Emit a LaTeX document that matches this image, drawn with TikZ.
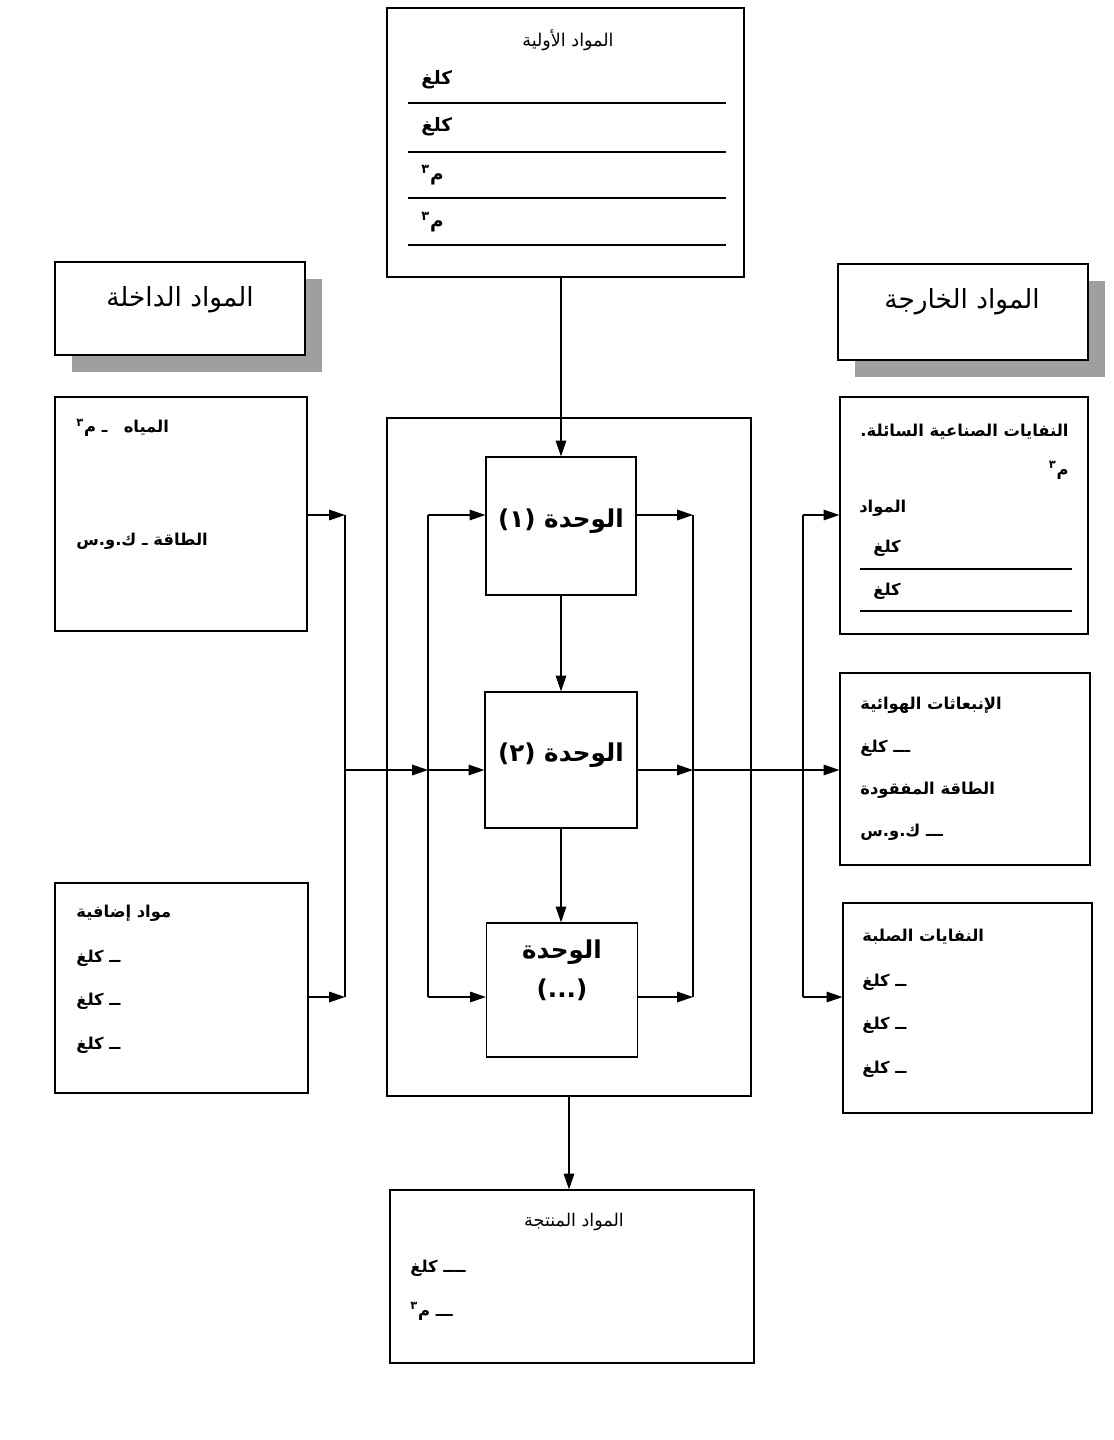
\documentclass[tikz,border=0pt]{standalone}
\usepackage{fontspec}
\newfontfamily\arabicfont[Script=Arabic]{DejaVu Sans}
\TeXXeTstate=1
\usetikzlibrary{arrows.meta}
\usetikzlibrary{shadows}
\usetikzlibrary{calc}

\newcommand{\mcube}{م\textsuperscript{٣}}

\tikzset{
	box/.style={draw, line width=0.7pt, fill=white, inner sep=0pt},
	headbox/.style={box, drop shadow={shadow xshift=0.34cm, shadow yshift=-0.34cm, fill=gray!75, opacity=1}},
	flow/.style={line width=0.7pt, -{Triangle[length=9pt,width=6pt]}},
	link/.style={line width=0.7pt},
	rule/.style={line width=0.7pt},
	lbl/.style={font=\arabicfont\bfseries\fontsize{9.3}{11}\selectfont, inner sep=0pt},
	big/.style={font=\arabicfont\bfseries\fontsize{10.5}{12}\selectfont, inner sep=0pt},
	ttl/.style={font=\arabicfont\fontsize{10}{12}\selectfont, inner sep=0pt},
	head/.style={font=\arabicfont\fontsize{15}{18}\selectfont, inner sep=0pt},
	unit/.style={font=\arabicfont\bfseries\fontsize{14}{22}\selectfont, inner sep=0pt, align=center}
}

\begin{document}
\begin{tikzpicture}[x=0.02cm, y=-0.02cm]
	\useasboundingbox (0,0) rectangle (1114,1440);
	
	\node[box, minimum width=7.14cm, minimum height=5.38cm] (raw) at (565.5,142.5) {};
	\node[headbox, minimum width=5cm, minimum height=1.86cm] (inhead) at (180,308.5) {};
	\node[headbox, minimum width=5cm, minimum height=1.92cm] (outhead) at (963,312) {};
	\node[box, minimum width=5.04cm, minimum height=4.68cm] (inwat) at (181,514) {};
	\node[box, minimum width=5.06cm, minimum height=4.2cm] (inadd) at (181.5,988) {};
	\node[box, minimum width=7.28cm, minimum height=13.56cm] (plant) at (569,757) {};
	\node[box, minimum width=3cm, minimum height=2.76cm] (unitA) at (561,526) {};
	\node[box, minimum width=3.04cm, minimum height=2.72cm] (unitB) at (561,760) {};
	\node[box, minimum width=3.02cm, minimum height=2.68cm] (unitC) at (562,990) {};
	\node[box, minimum width=7.28cm, minimum height=3.46cm] (product) at (572,1276.5) {};
	\node[box, minimum width=4.96cm, minimum height=4.74cm] (liquid) at (964,515.5) {};
	\node[box, minimum width=5cm, minimum height=3.84cm] (air) at (965,769) {};
	\node[box, minimum width=4.98cm, minimum height=4.2cm] (solid) at (967.5,1008) {};
	
	\node[ttl] (rawT) at (568,40) {\beginR المواد الأولية\endR};
	\node[big, anchor=west] (raw1) at (421,80) {\beginR كلغ\endR};
	\node[big, anchor=west] (raw2) at (421,127) {\beginR كلغ\endR};
	\node[big, anchor=west] (raw3) at (421,175) {\beginR\mcube\endR};
	\node[big, anchor=west] (raw4) at (421,222) {\beginR\mcube\endR};
	\draw[rule] (408,103) -- (726,103);
	\draw[rule] (408,152) -- (726,152);
	\draw[rule] (408,198) -- (726,198);
	\draw[rule] (408,245) -- (726,245);
	
	\node[head] (inheadT) at (180,300) {\beginR المواد الداخلة\endR};
	\node[head] (outheadT) at (962,302) {\beginR المواد الخارجة\endR};
	
	\node[lbl, anchor=west] (wat) at (76,428) {\beginR المياه\quad ـ \mcube\endR};
	\node[lbl, anchor=west] (nrg) at (76,541) {\beginR الطاقة ـ ك.و.س\endR};
	
	\node[lbl, anchor=west] (addT) at (76,913) {\beginR مواد إضافية\endR};
	\node[lbl, anchor=west] (add1) at (76,958) {\beginR ــ كلغ\endR};
	\node[lbl, anchor=west] (add2) at (76,1001) {\beginR ــ كلغ\endR};
	\node[lbl, anchor=west] (add3) at (76,1045) {\beginR ــ كلغ\endR};
	
	\node[unit] (unitAT) at (561,521) {\beginR الوحدة (١)\endR};
	\node[unit] (unitBT) at (561,755) {\beginR الوحدة (٢)\endR};
	\node[unit] (unitCT) at (562,970) {\beginR الوحدة\endR\\(...)};
	
	\node[ttl] (prodT) at (574,1222) {\beginR المواد المنتجة\endR};
	\node[lbl, anchor=west] (prod1) at (410,1268) {\beginR ــــ كلغ\endR};
	\node[lbl, anchor=west] (prod2) at (410,1311) {\beginR ـــ \mcube\endR};
	
	\node[lbl, anchor=east] (liqT) at (1069,432) {\beginR النفايات الصناعية السائلة.\endR};
	\node[lbl, anchor=east] (liqM) at (1069,470) {\beginR\mcube\endR};
	\node[lbl, anchor=west] (liqS) at (859,508) {\beginR المواد\endR};
	\node[lbl, anchor=west] (liq1) at (873,548) {\beginR كلغ\endR};
	\node[lbl, anchor=west] (liq2) at (873,591) {\beginR كلغ\endR};
	\draw[rule] (860,569) -- (1072,569);
	\draw[rule] (860,611) -- (1072,611);
	
	\node[lbl, anchor=west] (airT) at (860,705) {\beginR الإنبعاثات الهوائية\endR};
	\node[lbl, anchor=west] (air1) at (860,748) {\beginR ـــ كلغ\endR};
	\node[lbl, anchor=west] (air2) at (860,790) {\beginR الطاقة المفقودة\endR};
	\node[lbl, anchor=west] (air3) at (860,832) {\beginR ـــ ك.و.س\endR};
	
	\node[lbl, anchor=west] (solT) at (862,937) {\beginR النفايات الصلبة\endR};
	\node[lbl, anchor=west] (sol1) at (862,982) {\beginR ــ كلغ\endR};
	\node[lbl, anchor=west] (sol2) at (862,1025) {\beginR ــ كلغ\endR};
	\node[lbl, anchor=west] (sol3) at (862,1069) {\beginR ــ كلغ\endR};
	
	\coordinate (lbT) at (345,515);
	\coordinate (lbM) at (345,770);
	\coordinate (lbB) at (345,997);
	\coordinate (ibT) at (428,515);
	\coordinate (ibM) at (428,770);
	\coordinate (ibB) at (428,997);
	\coordinate (obT) at (693,515);
	\coordinate (obM) at (693,770);
	\coordinate (obB) at (693,997);
	\coordinate (rbT) at (803,515);
	\coordinate (rbB) at (803,997);
	
	\draw[flow] (unitA.north |- raw.south) -- (unitA.north);
	\draw[flow] (unitA.south) -- (unitB.north);
	\draw[flow] (unitB.south) -- (unitB.south |- unitC.north);
	\draw[flow] (plant.south) -- (plant.south |- product.north);
	
	\draw[flow] (inwat.east |- lbT) -- (lbT);
	\draw[flow] (inadd.east |- lbB) -- (lbB);
	\draw[link] (lbT) -- (lbB);
	\draw[flow] (lbM) -- (ibM);
	\draw[link] (ibT) -- (ibB);
	\draw[flow] (ibT) -- (ibT -| unitA.west);
	\draw[flow] (ibM) -- (ibM -| unitB.west);
	\draw[flow] (ibB) -- (ibB -| unitC.west);
	
	\draw[flow] (unitA.east |- obT) -- (obT);
	\draw[flow] (unitB.east |- obM) -- (obM);
	\draw[flow] (unitC.east |- obB) -- (obB);
	\draw[link] (obT) -- (obB);
	\draw[flow] (obM) -- (obM -| air.west);
	\draw[link] (rbT) -- (rbB);
	\draw[flow] (rbT) -- (rbT -| liquid.west);
	\draw[flow] (rbB) -- (rbB -| solid.west);
\end{tikzpicture}
\end{document}
